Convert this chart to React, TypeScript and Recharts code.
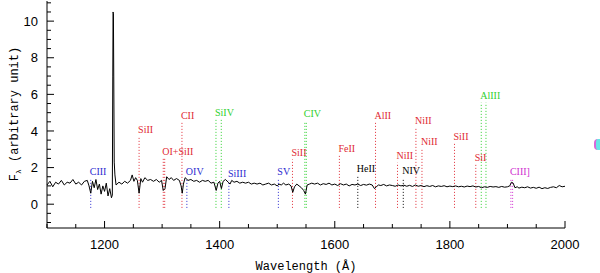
import { ComposedChart, Line, XAxis, YAxis, ReferenceLine, ReferenceDot } from "recharts";

// spectrum samples
const WAVELENGTH = [
  1100, 1105, 1110, 1115, 1120, 1125, 1130, 1135, 1140, 1145, 1150, 1155, 1160, 1165, 1170, 1173, 1176, 1179,
  1182, 1185, 1188, 1191, 1194, 1197, 1200, 1203, 1206, 1209, 1212, 1213.5, 1214.3, 1214.8, 1215.4, 1216,
  1216.8, 1218, 1220, 1225, 1230, 1235, 1240, 1245, 1248, 1251, 1254, 1257, 1260, 1263, 1266, 1270, 1275,
  1280, 1285, 1290, 1295, 1299, 1302, 1305, 1308, 1312, 1316, 1320, 1325, 1330, 1333, 1335, 1337, 1340,
  1345, 1350, 1355, 1360, 1365, 1370, 1375, 1380, 1385, 1390, 1394, 1397, 1400, 1403, 1406, 1410, 1415,
  1418, 1421, 1425, 1430, 1435, 1440, 1445, 1450, 1455, 1460, 1465, 1470, 1475, 1480, 1485, 1490, 1495,
  1500, 1503, 1507, 1511, 1515, 1520, 1524, 1527, 1530, 1534, 1538, 1542, 1546, 1549, 1552, 1556, 1560,
  1565, 1570, 1575, 1580, 1585, 1590, 1595, 1600, 1605, 1610, 1615, 1620, 1625, 1630, 1635, 1640, 1645,
  1650, 1655, 1660, 1665, 1669, 1672, 1676, 1680, 1685, 1690, 1695, 1700, 1705, 1710, 1715, 1720, 1725,
  1730, 1735, 1740, 1745, 1750, 1755, 1760, 1765, 1770, 1775, 1780, 1785, 1790, 1795, 1800, 1805, 1810,
  1815, 1820, 1825, 1830, 1835, 1840, 1845, 1850, 1855, 1860, 1865, 1870, 1875, 1880, 1885, 1890, 1895,
  1900, 1904, 1907, 1910, 1913, 1917, 1920, 1925, 1930, 1935, 1940, 1945, 1950, 1955, 1960, 1965, 1970,
  1975, 1980, 1985, 1990, 1995, 2000,
];
const FLUX = [
  1.05, 1.25, 0.95, 1.2, 1.1, 1.3, 1.05, 1.2, 1.15, 1.35, 1.1, 1.2, 1.05, 1.25, 1.3, 1.0, 0.6, 1.25,
  0.9, 1.35, 0.8, 1.1, 0.55, 1.0, 0.7, 1.15, 0.45, 0.85, 0.35, 0.5, 7.0, 10.5, 10.4, 7.0,
  2.3, 1.6, 1.05, 1.2, 1.1, 1.25, 1.15, 1.3, 1.6, 1.25, 1.45, 1.3, 0.6, 1.4, 1.2, 1.45, 1.3,
  1.35, 1.25, 1.35, 1.2, 1.3, 0.75, 0.85, 1.5, 1.35, 1.45, 1.3, 1.4, 1.3, 1.0, 0.6, 1.1, 1.45,
  1.3, 1.35, 1.25, 1.3, 1.2, 1.3, 1.25, 1.3, 1.15, 1.2, 0.75, 1.15, 1.25, 0.85, 1.25, 1.35, 1.2,
  1.1, 1.3, 1.2, 1.25, 1.15, 1.2, 1.15, 1.2, 1.1, 1.15, 1.1, 1.15, 1.05, 1.1, 1.15, 1.05, 1.1,
  1.0, 1.1, 1.05, 1.15, 1.05, 1.1, 1.0, 0.65, 0.95, 1.1, 1.0, 0.9, 0.75, 0.55, 1.05, 1.1, 1.15,
  1.1, 1.15, 1.05, 1.12, 1.08, 1.15, 1.05, 1.1, 1.02, 1.12, 1.05, 1.1, 1.0, 1.08, 1.05, 1.1, 1.02,
  1.08, 1.04, 1.1, 1.05, 0.85, 0.95, 1.05, 1.02, 1.08, 1.0, 1.05, 1.02, 0.98, 1.05, 1.0, 1.04, 0.98,
  1.03, 0.97, 1.05, 0.98, 1.02, 0.96, 1.01, 0.97, 1.02, 0.95, 1.0, 0.97, 1.01, 0.95, 0.99, 0.96, 1.0,
  0.95, 0.98, 0.94, 0.99, 0.96, 1.0, 0.94, 0.97, 0.9, 0.95, 0.92, 0.97, 0.94, 0.96, 0.92, 0.97, 0.93,
  0.95, 1.0, 1.2, 1.15, 0.9, 0.95, 0.88, 0.93, 0.9, 0.95, 0.88, 0.92, 0.87, 0.93, 0.85, 0.9, 0.86,
  0.92, 0.95, 0.9, 1.02, 0.95, 0.98,
];

// identified lines: label, rest wavelengths (Å), label height, colour
const LINE_NAMES = [
  "CIII", "SiII", "OI+SiII", "CII", "OIV", "SiIV", "SiIII", "SV", "SiII", "CIV", "FeII", "HeII",
  "AlII", "NiII", "NIV", "NiII", "NiII", "SiII", "SiI", "AlIII", "CIII]",
];
const LINE_WAVES = [
  [1176], [1260], [1302, 1304.5], [1334.5], [1343], [1393.6, 1402.8], [1416], [1502], [1526.5],
  [1548, 1550.5], [1608], [1640], [1670.8], [1709], [1719], [1741], [1751.5], [1808], [1845],
  [1854.5, 1862.7], [1906, 1909],
];
const LINE_LABEL_Y = [
  1.76, 4.1, 2.9, 4.85, 1.8, 5.03, 1.69, 1.76, 2.85, 4.95, 3.05, 1.96, 4.85, 2.67, 1.82, 4.55, 3.45,
  3.7, 2.56, 5.95, 1.76,
];
const LINE_COLORS = [
  "#2b2bd0", "#e02a34", "#e02a34", "#e02a34", "#2b2bd0", "#2fd02f", "#2b2bd0", "#2b2bd0", "#e02a34",
  "#2fd02f", "#e02a34", "#000000", "#e02a34", "#e02a34", "#000000", "#e02a34", "#e02a34", "#e02a34",
  "#e02a34", "#2fd02f", "#d030d0",
];

const X_TICKS = [
  1100, 1150, 1200, 1250, 1300, 1350, 1400, 1450, 1500, 1550, 1600, 1650, 1700, 1750, 1800, 1850, 1900,
  1950, 2000,
];
const X_LABELS = [1200, 1400, 1600, 1800, 2000];
const Y_TICKS = [
  -1, -0.5, 0, 0.5, 1, 1.5, 2, 2.5, 3, 3.5, 4, 4.5, 5, 5.5, 6, 6.5, 7, 7.5, 8, 8.5, 9, 9.5, 10, 10.5, 11,
];
const Y_LABELS = [0, 2, 4, 6, 8, 10];

const LINE_BOTTOM = -0.2;

const data = WAVELENGTH.map((wl, i) => ({ wl, flux: FLUX[i] }));

const sans = "'Liberation Sans', Arial, sans-serif";
const mono = "'Liberation Mono', 'Courier New', monospace";

function BottomTick({ x, y, payload }: any) {
  const v = payload.value;
  const major = X_LABELS.includes(v);
  return (
    <g>
      <line x1={x} x2={x} y1={y} y2={y - (major ? 7 : 4)} stroke="#000" />
      {major && (
        <text x={x} y={y + 21} textAnchor="middle" fontSize={13} fontFamily={sans} fill="#000">
          {v}
        </text>
      )}
    </g>
  );
}

function TopTick({ x, y, payload }: any) {
  const major = X_LABELS.includes(payload.value);
  return <line x1={x} x2={x} y1={y} y2={y + (major ? 7 : 4)} stroke="#000" />;
}

function LeftTick({ x, y, payload }: any) {
  const v = payload.value;
  const major = Y_LABELS.includes(v);
  return (
    <g>
      <line x1={x} x2={x + (major ? 7 : 4)} y1={y} y2={y} stroke="#000" />
      {major && (
        <text x={x - 9} y={y} dy="0.36em" textAnchor="end" fontSize={13} fontFamily={sans} fill="#000">
          {v}
        </text>
      )}
    </g>
  );
}

function RightTick({ x, y, payload }: any) {
  const major = Y_LABELS.includes(payload.value);
  return <line x1={x} x2={x - (major ? 7 : 4)} y1={y} y2={y} stroke="#000" />;
}

export default function App() {
  return (
    <div style={{ position: "absolute", left: 0, top: 0, width: 600, height: 273, background: "#fff" }}>
      <ComposedChart width={600} height={273} data={data} margin={{ top: 1, right: 35, bottom: 0, left: 0 }}>
        <XAxis
          xAxisId="b"
          dataKey="wl"
          type="number"
          domain={[1100, 2000]}
          ticks={X_TICKS}
          interval={0}
          height={45}
          tickSize={0}
          tickMargin={0}
          tickLine={false}
          tick={<BottomTick />}
          axisLine={{ stroke: "#000" }}
          label={{ value: "Wavelength (Å)", position: "insideBottom", offset: 3, fontFamily: mono, fontSize: 12, fill: "#000" }}
        />
        <XAxis
          xAxisId="t"
          orientation="top"
          dataKey="wl"
          type="number"
          domain={[1100, 2000]}
          ticks={X_TICKS}
          interval={0}
          height={0}
          tickSize={0}
          tickMargin={0}
          tickLine={false}
          tick={<TopTick />}
          axisLine={{ stroke: "#000" }}
        />
        <YAxis
          yAxisId="l"
          type="number"
          domain={[-1.3, 11.1]}
          ticks={Y_TICKS}
          interval={0}
          width={47}
          tickSize={0}
          tickMargin={0}
          tickLine={false}
          tick={<LeftTick />}
          axisLine={{ stroke: "#000" }}
          allowDataOverflow
        />
        <YAxis
          yAxisId="r"
          orientation="right"
          type="number"
          domain={[-1.3, 11.1]}
          ticks={Y_TICKS}
          interval={0}
          width={0}
          tickSize={0}
          tickMargin={0}
          tickLine={false}
          tick={<RightTick />}
          axisLine={{ stroke: "#000" }}
          allowDataOverflow
        />
        {LINE_NAMES.map((name, i) =>
          LINE_WAVES[i].map((w, j) => (
            <ReferenceLine
              key={`${name}-${i}-${j}`}
              xAxisId="b"
              yAxisId="l"
              segment={[
                { x: w, y: LINE_BOTTOM },
                { x: w, y: LINE_LABEL_Y[i] - 0.4 },
              ]}
              stroke={LINE_COLORS[i]}
              strokeDasharray="1 2"
              strokeWidth={1}
            />
          ))
        )}
        <Line
          xAxisId="b"
          yAxisId="l"
          dataKey="flux"
          type="linear"
          stroke="#000"
          strokeWidth={1}
          dot={false}
          isAnimationActive={false}
        />
        {LINE_NAMES.map((name, i) => (
          <ReferenceDot
            key={`lbl-${i}`}
            xAxisId="b"
            yAxisId="l"
            x={LINE_WAVES[i][0]}
            y={LINE_LABEL_Y[i]}
            r={0}
            shape={(p: any) => (
              <text
                x={p.cx - 1}
                y={p.cy}
                dy="0.35em"
                fontSize={10}
                fontFamily="'Liberation Serif', 'Times New Roman', serif"
                fill={LINE_COLORS[i]}
              >
                {name}
              </text>
            )}
          />
        ))}
        <text
          x={14}
          y={114}
          transform="rotate(-90 14 114)"
          textAnchor="middle"
          dy="0.35em"
          fontSize={12}
          fontFamily={mono}
          fill="#000"
        >
          F<tspan fontSize={8} dy={3}>λ</tspan>
          <tspan dy={-3}> (arbitrary unit)</tspan>
        </text>
      </ComposedChart>
      <div
        style={{
          position: "absolute",
          left: 594,
          top: 139,
          width: 4,
          height: 11,
          borderLeft: "2px solid #d040d0",
          borderRadius: "4px 0 0 4px",
          background: "linear-gradient(#40e0e0, #40e0e0)",
          opacity: 0.8,
        }}
      />
    </div>
  );
}
